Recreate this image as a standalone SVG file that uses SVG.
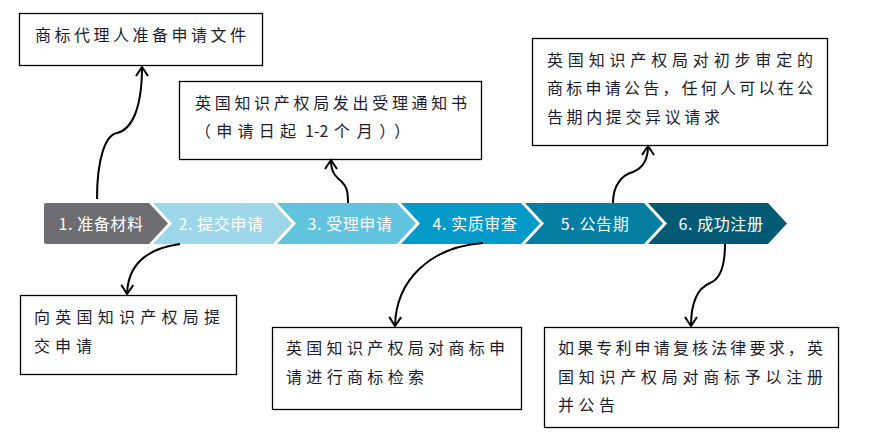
<svg xmlns="http://www.w3.org/2000/svg" width="877" height="436" viewBox="0 0 877 436">
<style>
.box{fill:#fff;stroke:#000;stroke-width:1.3}
.t{font-family:"Noto Sans CJK SC","Noto Sans",sans-serif;font-size:16px;fill:#1c1c30}
.s{font-family:"Noto Sans CJK SC","Noto Sans",sans-serif;font-size:16px;letter-spacing:0.6px;fill:#fff;text-anchor:middle}
.c{fill:none;stroke:#000;stroke-width:2}
</style>
<defs>
<marker id="ah" viewBox="-11 -8 13 16" refX="0" refY="0" markerWidth="13" markerHeight="16" markerUnits="userSpaceOnUse" orient="auto">
<path d="M-9,-6 L0,0 L-9,6" fill="none" stroke="#000" stroke-width="2"/>
</marker>
</defs>
<rect width="877" height="436" fill="#fff"/>
<g id="steps">
<g id="step1"><path d="M46,203 H149 L168,223.5 L149,244 H46 Q44,244 44,242 V205 Q44,203 46,203 Z" fill="#6e6d72"/><text class="s" x="101" y="229.5">1. 准备材料</text></g>
<g id="step2"><path d="M153,203 H273 L292,223.5 L273,244 H153 L172,223.5 Z" fill="#9dd6e9"/><text class="s" x="221" y="229.5">2. 提交申请</text></g>
<g id="step3"><path d="M277,203 H397 L416,223.5 L397,244 H277 L296,223.5 Z" fill="#62c3df"/><text class="s" x="350" y="229.5">3. 受理申请</text></g>
<g id="step4"><path d="M401,203 H521 L540,223.5 L521,244 H401 L420,223.5 Z" fill="#0399c9"/><text class="s" x="475" y="229.5">4. 实质审查</text></g>
<g id="step5"><path d="M525,203 H644 L663,223.5 L644,244 H525 L544,223.5 Z" fill="#057ea3"/><text class="s" x="595" y="229.5">5. 公告期</text></g>
<g id="step6"><path d="M648,203 H768 L787,223.5 L768,244 H648 L667,223.5 Z" fill="#045a74"/><text class="s" x="721" y="229.5">6. 成功注册</text></g>
</g>
<g id="boxA"><rect class="box" x="19.5" y="13.5" width="243" height="52"/><text class="t" x="35" y="41" textLength="211" lengthAdjust="spacing">商标代理人准备申请文件</text></g>
<g id="boxB"><rect class="box" x="179.5" y="81.5" width="302" height="78"/><text class="t" x="195" y="109" textLength="272" lengthAdjust="spacing">英国知识产权局发出受理通知书</text><text class="t" x="195" y="137"><tspan textLength="101" lengthAdjust="spacing">（申请日起</tspan><tspan x="305">1-2</tspan><tspan x="334" textLength="76" lengthAdjust="spacing">个月））</tspan></text></g>
<g id="boxC"><rect class="box" x="532.5" y="38.5" width="295" height="107"/><text class="t" x="547" y="66" textLength="266" lengthAdjust="spacing">英国知识产权局对初步审定的</text><text class="t" x="547" y="94" textLength="266" lengthAdjust="spacing">商标申请公告，任何人可以在公</text><text class="t" x="547" y="123" textLength="173" lengthAdjust="spacing">告期内提交异议请求</text></g>
<g id="boxD"><rect class="box" x="20.5" y="295.5" width="216" height="79"/><text class="t" x="34" y="323" textLength="186" lengthAdjust="spacing">向英国知识产权局提</text><text class="t" x="34" y="352" textLength="58" lengthAdjust="spacing">交申请</text></g>
<g id="boxE"><rect class="box" x="272.5" y="327.5" width="249" height="82"/><text class="t" x="286" y="354" textLength="219" lengthAdjust="spacing">英国知识产权局对商标申</text><text class="t" x="286" y="383" textLength="138" lengthAdjust="spacing">请进行商标检索</text></g>
<g id="boxF"><rect class="box" x="544.5" y="327.5" width="294" height="100"/><text class="t" x="558" y="354" textLength="265" lengthAdjust="spacing">如果专利申请复核法律要求，英</text><text class="t" x="558" y="383" textLength="265" lengthAdjust="spacing">国知识产权局对商标予以注册</text><text class="t" x="558" y="411" textLength="57" lengthAdjust="spacing">并公告</text></g>
<g id="connectors">
<path class="c" marker-end="url(#ah)" d="M97,199 C97,160 105,135 117,133 C131,130 142,110 142,67"/>
<path class="c" marker-end="url(#ah)" d="M180,244 C150,248 128,262 127,294"/>
<path class="c" marker-end="url(#ah)" d="M348,203 C348,189 346,186 341,181 C335,176 331,172 331,160"/>
<path class="c" marker-end="url(#ah)" d="M483,243 C430,247 396,280 395,326"/>
<path class="c" marker-end="url(#ah)" d="M613,203 C613,185 622,175 633,172 C643,168 648,160 648,146"/>
<path class="c" marker-end="url(#ah)" d="M725,244 C725,270 718,280 710,283 C698,288 691,300 691,326"/>
</g>
</svg>
